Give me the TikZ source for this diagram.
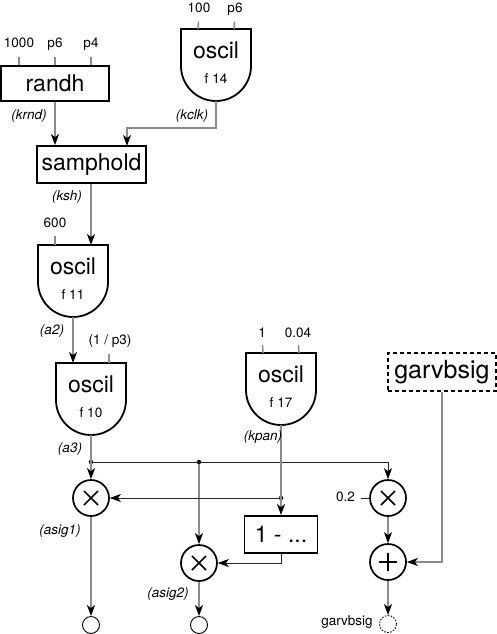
\documentclass[tikz,border=0pt]{standalone}
\usepackage{fontspec}
\setmainfont{TeX Gyre Heros}
\usetikzlibrary{arrows.meta,calc}

\tikzset{
  >={Stealth[length=11pt,width=8pt,inset=3pt,black]},
  unit/.style={draw=black, line width=1.8pt, fill=white},
  opbox/.style={unit, rectangle, inner sep=0pt, font=\fontsize{23}{25}\selectfont},
  big/.style={inner sep=0pt, font=\fontsize{23}{25}\selectfont},
  small/.style={inner sep=0pt, text height=10pt, text depth=3pt, font=\fontsize{13.5}{15}\selectfont},
  var/.style={small, font=\fontsize{13.5}{15}\selectfont\itshape},
  sig/.style={draw=black!45, line width=1.5pt, ->},
  bus/.style={draw=black!85, line width=0.9pt},
  stub/.style={draw=black!45, line width=1.5pt},
  dot/.style={circle, fill=black, inner sep=0pt, minimum size=4.5pt},
  op/.style={circle, draw, line width=1.7pt, minimum size=36pt, inner sep=0pt},
  times/.style={op, path picture={\draw[line width=1.5pt] (path picture bounding box.center)
      +(-7,-7) -- +(7,7) +(-7,7) -- +(7,-7);}},
  plus/.style={op, path picture={\draw[line width=1.5pt] (path picture bounding box.center)
      +(-9,0) -- +(9,0) +(0,-9) -- +(0,9);}},
  outlet/.style={circle, draw, line width=0.9pt, minimum size=17pt, inner sep=0pt},
}

% oscil unit: name, centre x, top y, table
\newcommand{\oscilunit}[4]{%
  \draw[unit] (#2-35,#3) -- (#2-35,#3+37) arc[start angle=180, end angle=360, radius=35pt] -- (#2+35,#3) -- cycle;
  \node[big] (#1) at (#2,#3+21) {oscil};
  \node[small] (#1tab) at (#2,#3+51) {#4};
  \coordinate (#1inl) at (#2-18,#3);
  \coordinate (#1inr) at (#2+18,#3);
  \coordinate (#1out) at (#2,#3+72);
}

\begin{document}
\begin{tikzpicture}[x=1pt,y=-1pt]
  \useasboundingbox (0,0) rectangle (497,634);

  %%%%% UNITS %%%%%
  \node[opbox, minimum width=108pt, minimum height=35pt] (randh) at (55,83.5) {randh};
  \node[opbox, minimum width=109pt, minimum height=37pt] (samphold) at (91.5,164.5) {samphold};
  \oscilunit{o14}{216}{29}{f 14}
  \oscilunit{o11}{73}{245}{f 11}
  \oscilunit{o10}{91}{363}{f 10}
  \oscilunit{o17}{281}{353}{f 17}
  \node[opbox, dashed, dash pattern=on 4pt off 3pt, minimum width=108pt, minimum height=38pt,
    font=\fontsize{25}{27}\selectfont] (gbs) at (442,372) {garvbsig};
  \node[opbox, minimum width=73pt, minimum height=37pt] (inv) at (281,534.5) {1 - ...};

  \node[times] (t1) at (91,498) {};
  \node[times] (t2) at (199,563) {};
  \node[times] (t3) at (388,498) {};
  \node[plus] (add) at (388,562) {};

  \node[outlet] (out1) at (91,625) {};
  \node[outlet] (out2) at (199,625) {};
  \node[outlet, dash pattern=on 1.5pt off 1.5pt] (out3) at (388,624) {};

  %%%%% INPUTS %%%%%
  \node[small, anchor=base] (in1000) at (19,48) {1000};
  \node[small, anchor=base] (inp6a) at (55,48) {p6};
  \node[small, anchor=base] (inp4) at (91,48) {p4};
  \node[small, anchor=base] (in100) at (199,12.7) {100};
  \node[small, anchor=base] (inp6b) at (235,12.7) {p6};
  \node[small, anchor=base] (in600) at (55,227) {600};
  \node[small, anchor=base] (inp3) at (110,344) {(1 / p3)};
  \node[small, anchor=base] (in1) at (262,337) {1};
  \node[small, anchor=base] (in004) at (298,337) {0.04};
  \node[small, anchor=east] (in02) at (355,498) {0.2};

  \draw[stub, shorten <=9pt] (in1000.base) -- (randh.north -| in1000);
  \draw[stub, shorten <=9pt] (inp6a.base) -- (randh.north -| inp6a);
  \draw[stub, shorten <=9pt] (inp4.base) -- (randh.north -| inp4);
  \draw[stub, shorten <=9pt] (in100.base) -- (o14inl);
  \draw[stub, shorten <=9pt] (inp6b.base) -- (o14inr);
  \draw[stub, shorten <=9pt] (in600.base) -- (o11inl);
  \draw[stub, shorten <=10pt] (inp3.base -| o10inr) -- (o10inr);
  \draw[stub, shorten <=8pt] (in1.base) -- (o17inl);
  \draw[stub, shorten <=8pt] (in004.base) -- (o17inr);
  \draw[bus, shorten <=6pt] (in02.east) -- (t3.west);

  %%%%% SIGNALS %%%%%
  \coordinate (kclkbend) at (216,128);
  \coordinate (shin) at (127,146);
  \node[dot] (a3dot) at (91,462) {};
  \node[dot] (brdot) at (199,462) {};
  \node[dot] (kpdot) at (281,498) {};

  \draw[sig] (randh.south) -- (samphold.north -| randh.south);
  \draw[sig] (o14out) -- (kclkbend) -| (shin);
  \draw[sig] (o11inr |- samphold.south) -- (o11inr);
  \draw[sig] (o11out) -- (o10inl);
  \draw[sig] (o10out) -- (t1);
  \draw[bus, ->] (a3dot) -| (t3);
  \draw[sig] (brdot) -- (t2);
  \draw[sig] (o17out) -- (inv.north);
  \draw[bus, ->] (kpdot) -- (t1);
  \draw[bus, ->] (inv.south) |- (t2);
  \draw[sig] (gbs.south) |- (add);
  \draw[sig] (t3) -- (add);
  \draw[sig] (t1) -- (out1);
  \draw[sig] (t2) -- (out2);
  \draw[sig] (add) -- (out3);

  %%%%% NAMES %%%%%
  \node[var] (lkrnd) at (29,116) {(krnd)};
  \node[var] (lkclk) at (192,116) {(kclk)};
  \node[var] (lksh) at (67,197) {(ksh)};
  \node[var] (la2) at (52,331) {(a2)};
  \node[var] (la3) at (70,449) {(a3)};
  \node[var] (lkpan) at (263,437) {(kpan)};
  \node[var] (lasig1) at (60,531) {(asig1)};
  \node[var] (lasig2) at (168,594) {(asig2)};
  \node[small] (lgbs) at (347,622) {garvbsig};
\end{tikzpicture}
\end{document}
